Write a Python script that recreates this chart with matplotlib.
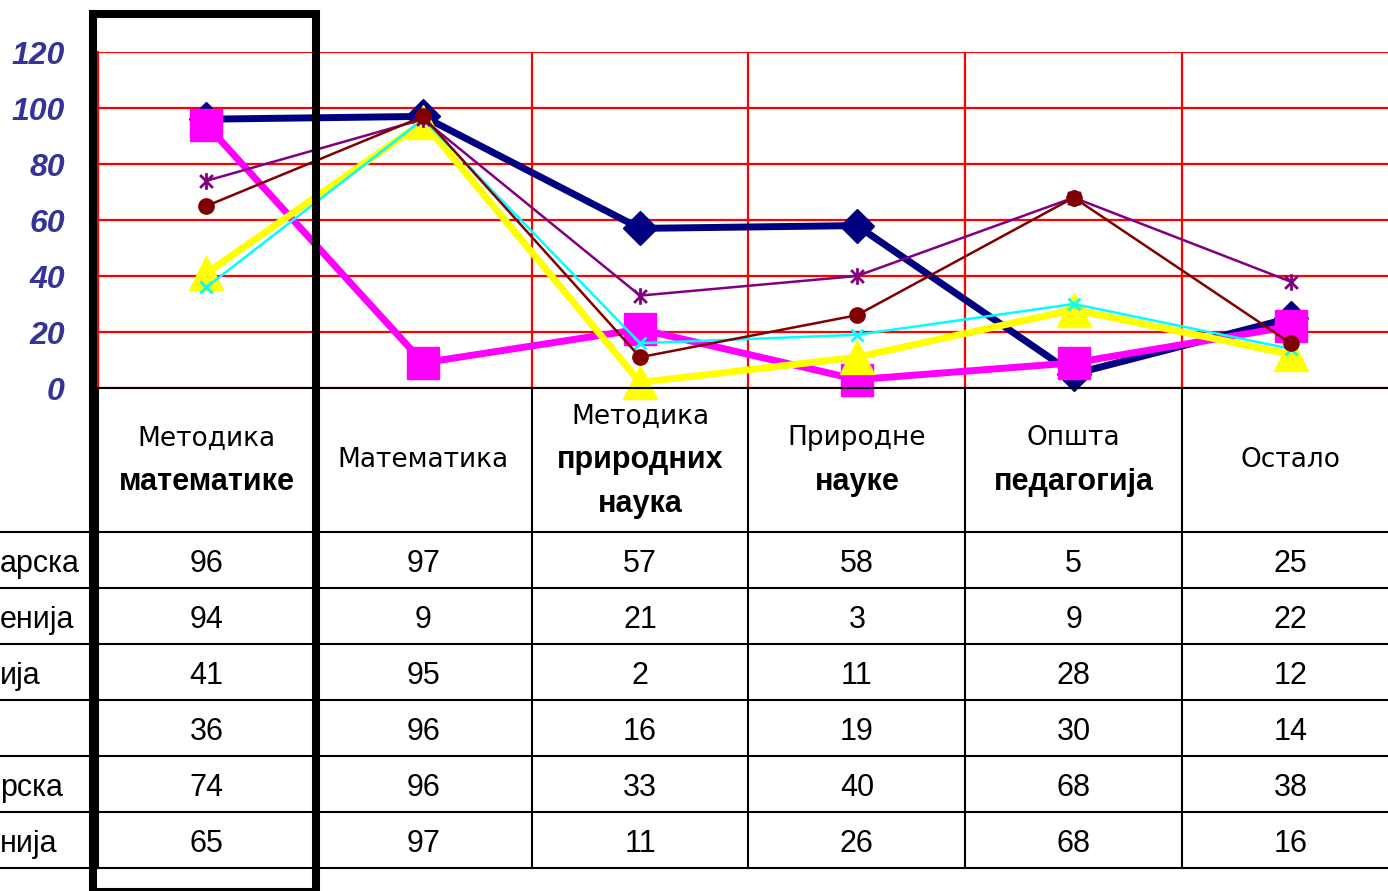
import numpy as np
import matplotlib
matplotlib.use("Agg")
import matplotlib.pyplot as plt
from matplotlib.patches import Rectangle
from matplotlib.path import Path

plt.rcParams['font.family'] = ['Liberation Sans', 'DejaVu Sans']

# header lines per category: (text, bold)
headers = [
    [("Методика", False), ("математике", True)],
    [("Математика", False)],
    [("Методика", False), ("природних", True), ("наука", True)],
    [("Природне", False), ("науке", True)],
    [("Општа", False), ("педагогија", True)],
    [("Остало", False)],
]
row_labels = ["арска", "енија", "ија", "", "рска", "нија"]

s1 = [96, 97, 57, 58, 5, 25]
s2 = [94, 9, 21, 3, 9, 22]
s3 = [41, 95, 2, 11, 28, 12]
s4 = [36, 96, 16, 19, 30, 14]
s5 = [74, 96, 33, 40, 68, 38]
s6 = [65, 97, 11, 26, 68, 16]
series = [s1, s2, s3, s4, s5, s6]

# excel-like star: an x with a vertical bar
star = Path([(-1, -1), (1, 1), (-1, 1), (1, -1), (0, -1.3), (0, 1.3)],
            [Path.MOVETO, Path.LINETO, Path.MOVETO, Path.LINETO, Path.MOVETO, Path.LINETO])

styles = [
    dict(color="#000080", marker="D", ms=17, lw=5),
    dict(color="#FF00FF", marker="s", ms=23, lw=5),
    dict(color="#FFFF00", marker="^", ms=25, lw=5),
    dict(color="#00FFFF", marker="x", ms=9, mew=2, lw=1.8),
    dict(color="#800080", marker=star, ms=12, mew=2, lw=1.8),
    dict(color="#800000", marker="o", ms=11, lw=1.8),
]

W, Hpx = 1388, 891
fig = plt.figure(figsize=(W / 100, Hpx / 100), dpi=100)

n = len(series[0])
x = np.arange(n)
ax_left = 98 / W
ax_width = 1301 / W

# ---- data table ----
head_h = 144 / 56
tab = fig.add_axes([ax_left, (Hpx - 868) / Hpx, ax_width, 480 / Hpx])
tab.set_xlim(-0.5, n - 0.5)
tab.set_ylim(head_h + len(series), 0)
tab.axis("off")
for i in range(len(series) + 1):
    tab.plot([-1.0, n - 0.5], [head_h + i, head_h + i], color="black", lw=1.5, clip_on=False)
for b in np.arange(-0.5, n, 1):
    tab.plot([b, b], [0, head_h + len(series)], color="black", lw=1.5, clip_on=False)

for j, lines in enumerate(headers):
    k = len(lines)
    for li, (txt, bold) in enumerate(lines):
        yy = head_h / 2 + (li - (k - 1) / 2) * 0.786
        if bold:
            tab.text(j, yy, txt, ha="center", va="center", fontsize=22, fontweight="bold")
        else:
            tab.text(j, yy, txt, ha="center", va="center", fontsize=19, family="DejaVu Sans")

for i, (lab, vals) in enumerate(zip(row_labels, series)):
    yy = head_h + i + 0.58
    tab.text(-0.5 - 98 / 216.8, yy, lab, ha="left", va="center", fontsize=22, clip_on=False)
    for j, v in enumerate(vals):
        tab.text(j, yy, str(v), ha="center", va="center", fontsize=22)

# ---- line chart ----
ax = fig.add_axes([ax_left, (Hpx - 388) / Hpx, ax_width, 336 / Hpx])
ax.set_facecolor("none")
ax.set_xlim(-0.5, n - 0.5)
ax.set_ylim(0, 120)
for sp in ["top", "right"]:
    ax.spines[sp].set_visible(False)
ax.spines["left"].set_color("red")
ax.spines["left"].set_linewidth(1.5)
ax.spines["bottom"].set_color("black")
ax.spines["bottom"].set_linewidth(1.5)
ax.set_xticks(np.arange(-0.5, n, 1))
ax.set_xticklabels([])
ax.set_yticks(range(0, 121, 20))
ax.tick_params(length=0, pad=24)
ax.grid(True, color="red", lw=1.6)
ax.set_axisbelow(True)
for t in ax.get_yticklabels():
    t.set_fontsize(23)
    t.set_fontweight("bold")
    t.set_fontstyle("italic")
    t.set_color("#333399")

for vals, st in zip(series, styles):
    ax.plot(x, vals, clip_on=False, **st)

# highlight frame around the first column
fig.add_artist(Rectangle((93 / W, (Hpx - 892) / Hpx), 223 / W, 878.5 / Hpx,
                         transform=fig.transFigure, fill=False, ec="black", lw=5.8))

fig.savefig("out.png", dpi=100)
